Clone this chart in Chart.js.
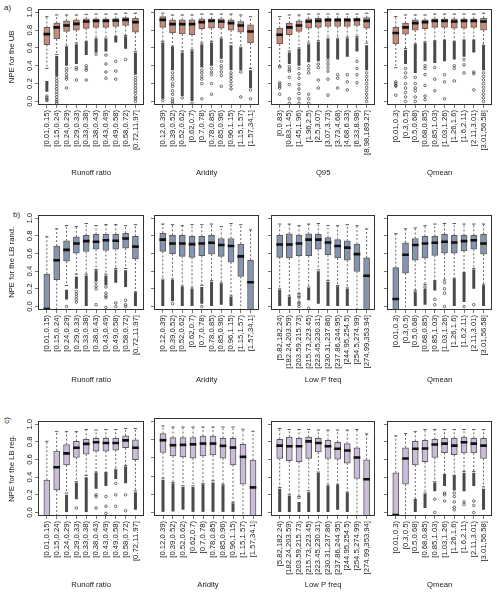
<!DOCTYPE html>
<html><head><meta charset="utf-8">
<script src="https://cdn.jsdelivr.net/npm/chart.js@4.4.1/dist/chart.umd.min.js"></script>
<style>
html,body{margin:0;padding:0;background:#fff;}
#wrap{position:relative;width:500px;height:595px;overflow:hidden;background:#fff;}
canvas{position:absolute;}
.lab{position:absolute;font:8px 'Liberation Sans',Arial,sans-serif;color:#222;line-height:9px;}
</style></head><body><div id="wrap">
<div class="lab" style="left:4px;top:3px;">a)</div>
<div class="lab" style="left:13px;top:210px;">b)</div>
<div class="lab" style="left:3px;top:416px;transform:rotate(-90deg);">c)</div>
</div>
<script>
// ---------- categories ----------
const catRunoff = ["[0.01,0.15)","[0.15,0.24)","[0.24,0.29)","[0.29,0.33)","[0.33,0.38)","[0.38,0.43)","[0.43,0.49)","[0.49,0.58)","[0.58,0.72)","[0.72,11.97]"];
const catAridity = ["[0.12,0.39)","[0.39,0.52)","[0.52,0.62)","[0.62,0.7)","[0.7,0.78)","[0.78,0.85)","[0.85,0.96)","[0.96,1.15)","[1.15,1.57)","[1.57,34.1]"];
const catQ95 = ["[0,0.83)","[0.83,1.45)","[1.45,1.96)","[1.96,2.5)","[2.5,3.07)","[3.07,3.73)","[3.73,4.68)","[4.68,6.33)","[6.33,8.98)","[8.98,189.27]"];
const catLowP = ["[5.82,182.24)","[182.24,203.59)","[203.59,215.73)","[215.73,223.45)","[223.45,230.31)","[230.31,237.86)","[237.86,244.95)","[244.95,254.5)","[254.5,274.99)","[274.99,353.94]"];
const catQmean = ["[0.01,0.3)","[0.3,0.5)","[0.5,0.68)","[0.68,0.85)","[0.85,1.03)","[1.03,1.26)","[1.26,1.6)","[1.6,2.11)","[2.11,3.01)","[3.01,56.58]"];
const yTickValues = [0, 0.2, 0.4, 0.6, 0.8, 1.0];

// ---------- a) NPE for the UB ----------
const A1_hi  = [0.95,0.97,0.97,0.97,0.977,0.98,0.98,0.98,0.99,0.99];
const A1_q3  = [0.83,0.878,0.904,0.915,0.926,0.926,0.926,0.93,0.94,0.933];
const A1_med = [0.755,0.83,0.852,0.87,0.896,0.904,0.904,0.907,0.915,0.889];
const A1_q1  = [0.637,0.70,0.785,0.80,0.82,0.83,0.83,0.84,0.852,0.778];
const A1_lo  = [0.37,0.525,0.62,0.655,0.674,0.71,0.71,0.73,0.74,0.563];
const A1_denseHi = [0.23,0.51,0.61,0.64,0.67,0.70,0.70,0.73,0.73,0.55];
const A1_denseLo = [0.11,0.28,0.40,0.42,0.52,0.55,0.56,0.66,0.59,0.30];
const A1_out = [[0.06,0.04,0.02,0.01],[0.26,0.23,0.2,0.17,0.14,0.11,0.08,0.05,0.02,0,-0.02],[0.37,0.34,0.3,0.27,0.25,0.15],[0.38,0.36,0.24],[0.4,0.37,0.35,0.24],[0.53],[0.52,0.42,0.33,0.26],[0.45,0.34,0.25],[0.47],[0.27,0.24,0.21,0.18,0.15,0.12,0.09,0.05,0.03,0]];

const A2_hi  = [0.99,0.97,0.97,0.97,0.98,0.98,0.98,0.98,0.97,0.95];
const A2_q3  = [0.952,0.915,0.915,0.915,0.926,0.926,0.926,0.915,0.896,0.86];
const A2_med = [0.915,0.867,0.867,0.867,0.889,0.904,0.896,0.878,0.852,0.785];
const A2_q1  = [0.83,0.767,0.756,0.748,0.815,0.822,0.822,0.80,0.778,0.655];
const A2_lo  = [0.674,0.62,0.563,0.58,0.655,0.674,0.71,0.655,0.607,0.37];
const A2_denseHi = [0.66,0.61,0.55,0.57,0.64,0.66,0.70,0.63,0.60,0.35];
const A2_denseLo = [0.03,0.35,0.06,0.0,0.38,0.40,0.48,0.35,0.35,0.15];
const A2_out = [[0.01],[0.32,0.28,0.25,0.2,0.17,0.12,0.08,0.03,0,-0.02],[0.04],[-0.02],[0.35,0.32,0.28,0.25,0.2,0.03],[0.37,0.33,0.3,0.2,0.08],[0.45,0.4,0.37,0.33,0.29,0.17],[0.32,0.29,0.26,0.22,0.18,0.14],[0.33,0.05],[0.13,0.03]];

const A3_hi  = [0.952,0.97,0.97,0.98,0.98,0.98,0.98,0.98,0.98,0.99];
const A3_q3  = [0.822,0.878,0.904,0.926,0.933,0.933,0.933,0.933,0.933,0.94];
const A3_med = [0.748,0.83,0.852,0.896,0.904,0.911,0.911,0.911,0.915,0.904];
const A3_q1  = [0.644,0.748,0.785,0.822,0.83,0.84,0.84,0.84,0.852,0.822];
const A3_lo  = [0.396,0.563,0.6,0.655,0.68,0.71,0.71,0.72,0.73,0.655];
const A3_denseHi = [null,0.55,0.59,0.64,0.67,0.70,0.70,0.71,0.72,0.63];
const A3_denseLo = [null,0.42,0.40,0.44,0.45,0.48,0.47,0.50,0.56,0.35];
const A3_out = [[0.385,0.21,0.19,0.17,0.15,0.08],[0.39,0.36,0.34,0.27,0.19,0.03,-0.02],[0.37,0.31,0.26,0.19,0.14,0.09,0.03,-0.02],[0.4,0.36,0.32,0.08,0.03,-0.02],[0.42,0.38,0.24,0.15],[0.46,0.42,0.38,0.34,0.25,0.07],[0.3,0.26,0.15],[0.3,0.22,0.13],[0.45,0.37,0.3,0.21],[0.32,0.28,0.24,0.2,0.16,0.12,0.08,0.04,0]];

const A4_hi  = [0.952,0.97,0.97,0.97,0.98,0.98,0.98,0.98,0.98,0.99];
const A4_q3  = [0.83,0.878,0.915,0.915,0.926,0.926,0.926,0.926,0.926,0.933];
const A4_med = [0.767,0.83,0.878,0.889,0.904,0.904,0.896,0.904,0.904,0.896];
const A4_q1  = [0.644,0.755,0.80,0.815,0.83,0.83,0.822,0.822,0.83,0.80];
const A4_lo  = [0.378,0.593,0.644,0.667,0.68,0.69,0.674,0.69,0.69,0.63];
const A4_denseHi = [null,0.58,0.64,0.66,0.68,0.69,0.67,0.69,0.69,0.63];
const A4_denseLo = [null,0.42,0.32,0.45,0.43,0.45,0.47,0.50,0.55,0.35];
const A4_out = [[0.22,0.2,0.18,0.17,0.07],[0.37,0.32,0.27,0.2,0.15,0.1,0.05,0],[0.27,0.2,0.15,0.12,0.05,0],[0.4,0.37,0.3,0.18,0.06,0.02],[0.38,0.25,0.12],[0.3,0.22,0.03],[0.4,0.37,0.23],[0.47,0.41,0.32],[0.33,0.31,0.13],[0.32,0.28,0.24,0.2,0.16,0.12,0.08,0.04,0]];

// ---------- b) NPE for the LB rand. ----------
const B1_hi  = [0.79,0.88,0.916,0.905,0.94,0.916,0.927,0.927,0.916,0.927];
const B1_q3  = [0.366,0.685,0.744,0.788,0.806,0.817,0.817,0.817,0.83,0.795];
const B1_med = [-0.03,0.524,0.641,0.714,0.74,0.733,0.75,0.744,0.77,0.678];
const B1_q1  = [-0.2,0.304,0.513,0.604,0.623,0.648,0.634,0.648,0.66,0.538];
const B1_lo  = [-0.2,-0.2,0.238,0.366,0.366,0.42,0.366,0.43,0.43,0.165];
const B1_denseHi = [null,null,0.19,0.34,0.35,0.41,0.35,0.42,0.41,0.16];
const B1_denseLo = [null,null,0.08,0.20,0.0,0.29,0.24,0.27,0.22,0.0];
const B1_out = [[],[],[0],[0.17,0.14,0.11,0.08,0.05],[],[0.27,0.23,0.2,0.02],[0.22,0.15,0.12,0.1,-0.01],[0.04,0],[0.07,0.02,0],[]];

const B2_hi  = [0.934,0.927,0.916,0.927,0.927,0.934,0.905,0.94,0.927,0.868];
const B2_q3  = [0.83,0.806,0.806,0.795,0.795,0.806,0.77,0.77,0.707,0.524];
const B2_med = [0.758,0.714,0.714,0.707,0.714,0.722,0.696,0.685,0.568,0.275];
const B2_q1  = [0.623,0.597,0.568,0.557,0.575,0.593,0.568,0.502,0.34,-0.2];
const B2_lo  = [0.31,0.31,0.23,0.21,0.24,0.293,0.267,0.12,-0.2,-0.2];
const B2_denseHi = [0.30,0.30,0.22,0.20,0.22,0.28,0.26,0.11,null,null];
const B2_denseLo = [0.0,0.06,0.0,0.0,0.03,0.0,0.02,0.0,null,null];
const B2_out = [[],[0.03],[],[],[0],[],[],[],[],[]];

const B3_hi  = [0.934,0.934,0.916,0.934,0.94,0.916,0.916,0.927,0.916,0.879];
const B3_q3  = [0.806,0.824,0.806,0.824,0.817,0.78,0.758,0.744,0.707,0.55];
const B3_med = [0.703,0.703,0.714,0.758,0.758,0.725,0.685,0.667,0.593,0.348];
const B3_q1  = [0.557,0.55,0.575,0.575,0.648,0.586,0.55,0.524,0.396,-0.2];
const B3_lo  = [0.2,0.12,0.147,0.22,0.414,0.293,0.238,0.21,-0.2,-0.2];
const B3_denseHi = [0.19,0.11,null,0.21,0.40,0.28,0.23,0.20,null,null];
const B3_denseLo = [0.0,0.0,null,0.07,0.03,0.0,0.0,0.0,null,null];
const B3_out = [[],[],[0.12,0.1,0.05,0.03,0],[-0.02],[],[],[],[],[],[]];

const B4_hi  = [0.824,0.88,0.89,0.916,0.934,0.94,0.94,0.934,0.934,0.934];
const B4_q3  = [0.44,0.722,0.77,0.795,0.795,0.817,0.806,0.806,0.806,0.817];
const B4_med = [0.084,0.586,0.696,0.714,0.722,0.733,0.725,0.74,0.75,0.714];
const B4_q1  = [-0.2,0.377,0.524,0.55,0.579,0.604,0.604,0.63,0.648,0.593];
const B4_lo  = [-0.2,-0.2,0.183,0.25,0.293,0.3,0.32,0.385,0.43,0.245];
const B4_denseHi = [null,null,0.17,0.20,0.29,null,0.31,0.38,0.42,0.24];
const B4_denseLo = [null,null,0.0,0.02,0.18,null,0.0,0.05,0.20,0.0];
const B4_out = [[],[],[],[0.22],[0.08,0.02],[0.27,0.2,0.15,0],[],[0],[0.02],[]];

// ---------- c) NPE for the LB reg. ----------
const C1_hi  = [0.806,0.916,0.916,0.916,0.94,0.934,0.94,0.94,0.952,0.952];
const C1_q3  = [0.366,0.696,0.77,0.806,0.83,0.84,0.84,0.84,0.868,0.824];
const C1_med = [-0.07,0.513,0.67,0.733,0.777,0.795,0.788,0.788,0.817,0.733];
const C1_q1  = [-0.2,0.256,0.538,0.623,0.66,0.696,0.696,0.707,0.733,0.597];
const C1_lo  = [-0.2,-0.2,0.22,0.348,0.42,0.458,0.454,0.49,0.53,0.245];
const C1_denseHi = [null,null,0.2,0.34,0.40,0.45,0.45,0.48,0.52,0.23];
const C1_denseLo = [null,null,0.0,0.15,0.0,0.27,0.30,0.38,0.33,0.03];
const C1_out = [[],[],[],[0.05],[],[0.2,0.18,0.05],[0.18,0.07,-0.01],[0.33,0.2,0.07],[0.2,0.02],[]];

const C2_hi  = [0.952,0.94,0.94,0.94,0.94,0.94,0.94,0.94,0.916,0.894];
const C2_q3  = [0.868,0.824,0.824,0.824,0.84,0.84,0.817,0.817,0.75,0.575];
const C2_med = [0.795,0.74,0.744,0.75,0.758,0.758,0.733,0.714,0.612,0.275];
const C2_q1  = [0.66,0.623,0.612,0.597,0.623,0.634,0.597,0.524,0.31,-0.2];
const C2_lo  = [0.377,0.33,0.293,0.293,0.32,0.348,0.31,0.11,-0.2,-0.2];
const C2_denseHi = [0.36,0.32,0.28,0.28,0.31,0.33,0.30,0.10,null,null];
const C2_denseLo = [0.0,0.01,0.03,0.0,0.0,0.0,0.0,0.0,null,null];
const C2_out = [[],[],[],[],[],[],[],[],[],[]];

const C3_hi  = [0.952,0.94,0.94,0.94,0.934,0.934,0.934,0.934,0.94,0.89];
const C3_q3  = [0.83,0.853,0.84,0.853,0.84,0.817,0.795,0.78,0.733,0.597];
const C3_med = [0.758,0.75,0.75,0.806,0.788,0.75,0.722,0.703,0.623,0.377];
const C3_q1  = [0.612,0.586,0.575,0.612,0.685,0.612,0.604,0.56,0.385,-0.2];
const C3_lo  = [0.282,0.2,0.183,0.245,0.458,0.31,0.32,0.23,-0.2,-0.2];
const C3_denseHi = [0.27,0.19,0.12,0.23,0.45,0.30,0.31,0.22,null,null];
const C3_denseLo = [0.0,0.0,0.0,0.0,0.0,0.0,0.03,0.0,null,null];
const C3_out = [[],[],[0.17],[],[],[],[],[],[],[]];

const C4_hi  = [0.868,0.894,0.916,0.94,0.94,0.94,0.94,0.94,0.94,0.94];
const C4_q3  = [0.45,0.733,0.806,0.817,0.83,0.84,0.84,0.853,0.84,0.84];
const C4_med = [-0.03,0.612,0.722,0.725,0.77,0.78,0.758,0.795,0.78,0.758];
const C4_q1  = [-0.2,0.32,0.538,0.575,0.623,0.678,0.656,0.674,0.674,0.612];
const C4_lo  = [-0.2,-0.2,0.147,0.22,0.348,0.43,0.42,0.465,0.465,0.29];
const C4_denseHi = [null,null,0.14,0.21,0.34,0.43,0.42,0.45,0.45,0.27];
const C4_denseLo = [null,null,0.0,0.05,0.24,0.30,0.25,0.24,0.30,0.03];
const C4_out = [[],[],[],[],[0.15,0],[0.22,0.2,0.13],[0.22,0.18,0.12,0.06,0.03],[0.12,0.09],[0.13,0.08,0],[]];

// ---------- styling / layout ----------
const FONT = "'Liberation Sans', Arial, sans-serif";
const FS = 7.7;
const fillUB = '#C98B78', fillRand = '#8595AF', fillReg = '#CBBCD9';
const colLeft = [38,154,271,387], colRight = [147,262,378,495];
const rowTop = [6,212,418], rowBottom = [105,310,516], rowAxisH = [73,75,74];
const PADTOP = 2;
const wrap = document.getElementById('wrap');

const framePlugin = {
  id: 'frame',
  afterDraw(chart) {
    const a = chart.chartArea, c = chart.ctx;
    c.save();
    c.strokeStyle = '#333'; c.lineWidth = 1;
    c.strokeRect(Math.round(a.left)+0.5, Math.round(a.top)+0.5, Math.round(a.right-a.left)-1, Math.round(a.bottom-a.top)-1);
    c.restore();
  }
};

function makePanel(r, c, cats, s, fill, xTitle, yTitle) {
  const first = c === 0;
  const yW = first ? 38 : 6;
  const w = yW + (colRight[c]-colLeft[c]) + 2;
  const h = PADTOP + (rowBottom[r]-rowTop[r]) + rowAxisH[r];
  const cv = document.createElement('canvas');
  cv.width = w; cv.height = h;
  cv.style.left = (colLeft[c]-yW)+'px'; cv.style.top = (rowTop[r]-PADTOP)+'px';
  cv.style.width = w+'px'; cv.style.height = h+'px';
  wrap.appendChild(cv);

  const xs = cats.map((_, i) => i + 1);
  const boxes = xs.map((x,i) => ({x, y:[s.q1[i], s.q3[i]]}));
  const meds = xs.map((x,i) => ({x, y:[s.med[i]-0.011, s.med[i]+0.011]}));
  const whisk = [], caps = [], pts = [], dense = [];
  xs.forEach((x,i) => {
    whisk.push({x, y:s.q3[i]}, {x, y:s.hi[i]}, {x, y:null}, {x, y:s.q1[i]}, {x, y:s.lo[i]}, {x, y:null});
    caps.push({x:x-0.17, y:s.hi[i]}, {x:x+0.17, y:s.hi[i]}, {x, y:null}, {x:x-0.17, y:s.lo[i]}, {x:x+0.17, y:s.lo[i]}, {x, y:null});
    if (s.dHi[i] !== null) dense.push({x, y:[s.dLo[i], s.dHi[i]]});
    s.out[i].forEach(v => pts.push({x, y:v}));
  });

  const grid = {display:true, drawOnChartArea:false, drawTicks:true, tickLength:3, color:'#777', lineWidth:1, offset:false};
  const tfont = {family:FONT, size:FS};

  new Chart(cv, {
    type: 'bar',
    data: { datasets: [
      {type:'bar', data:meds, backgroundColor:'#111', borderWidth:0, barThickness:6, grouped:false, order:0, clip:0},
      {type:'bar', data:boxes, backgroundColor:fill, borderColor:'#5c5c5c', borderWidth:1, borderSkipped:false, barThickness:6, grouped:false, order:1, clip:0},
      {type:'line', data:caps, borderColor:'#555', borderWidth:1, pointRadius:0, spanGaps:false, fill:false, order:2, clip:0},
      {type:'line', data:whisk, borderColor:'#666', borderWidth:1, borderDash:[2,2], pointRadius:0, spanGaps:false, fill:false, order:3, clip:0},
      {type:'bar', data:dense, backgroundColor:'#4a4a4a', borderWidth:0, inflateAmount:0, barThickness:3, grouped:false, order:4, clip:0},
      {type:'line', data:pts, showLine:false, pointRadius:1.3, pointBorderWidth:0.7, pointBorderColor:'#333', pointBackgroundColor:'rgba(0,0,0,0)', order:5, clip:0}
    ]},
    options: {
      responsive:false, animation:false, devicePixelRatio:1, events:[],
      layout:{padding:{top:PADTOP, right:2, left:0, bottom:0}},
      plugins:{legend:{display:false}, tooltip:{enabled:false}},
      scales:{
        x:{type:'linear', min:0.1, max:10.9, offset:false,
          afterBuildTicks: sc => { sc.ticks = xs.map(v => ({value:v})); },
          afterFit: sc => { sc.height = rowAxisH[r]; sc.paddingLeft = 0; sc.paddingRight = 0; sc.paddingTop = 0; sc.paddingBottom = 0; },
          grid, border:{display:false},
          ticks:{autoSkip:false, minRotation:90, maxRotation:90, padding:2, color:'#222', font:tfont, callback:(v,i) => cats[i]},
          title:{display:true, text:xTitle, color:'#222', font:tfont, padding:{top:0, bottom:0}}
        },
        y:{type:'linear', min:-0.04, max:1.04,
          afterBuildTicks: sc => { sc.ticks = yTickValues.map(v => ({value:v})); },
          afterFit: sc => { sc.width = yW; sc.paddingLeft = 0; sc.paddingRight = 0; sc.paddingTop = 0; sc.paddingBottom = 0; },
          grid, border:{display:false},
          ticks:{display:first, minRotation:90, maxRotation:90, crossAlign:'center', padding:0, color:'#222', font:tfont, callback:v => Number(v).toFixed(1)},
          title:{display:first, text:yTitle, color:'#222', font:tfont, padding:{top:7, bottom:0}}
        }
      }
    },
    plugins:[framePlugin]
  });
}

function st(hi,q3,med,q1,lo,dHi,dLo,out){ return {hi,q3,med,q1,lo,dHi,dLo,out}; }

makePanel(0,0,catRunoff, st(A1_hi,A1_q3,A1_med,A1_q1,A1_lo,A1_denseHi,A1_denseLo,A1_out), fillUB, 'Runoff ratio', 'NPE for the UB');
makePanel(0,1,catAridity, st(A2_hi,A2_q3,A2_med,A2_q1,A2_lo,A2_denseHi,A2_denseLo,A2_out), fillUB, 'Aridity', '');
makePanel(0,2,catQ95, st(A3_hi,A3_q3,A3_med,A3_q1,A3_lo,A3_denseHi,A3_denseLo,A3_out), fillUB, 'Q95', '');
makePanel(0,3,catQmean, st(A4_hi,A4_q3,A4_med,A4_q1,A4_lo,A4_denseHi,A4_denseLo,A4_out), fillUB, 'Qmean', '');

makePanel(1,0,catRunoff, st(B1_hi,B1_q3,B1_med,B1_q1,B1_lo,B1_denseHi,B1_denseLo,B1_out), fillRand, 'Runoff ratio', 'NPE for the LB rand.');
makePanel(1,1,catAridity, st(B2_hi,B2_q3,B2_med,B2_q1,B2_lo,B2_denseHi,B2_denseLo,B2_out), fillRand, 'Aridity', '');
makePanel(1,2,catLowP, st(B3_hi,B3_q3,B3_med,B3_q1,B3_lo,B3_denseHi,B3_denseLo,B3_out), fillRand, 'Low P freq', '');
makePanel(1,3,catQmean, st(B4_hi,B4_q3,B4_med,B4_q1,B4_lo,B4_denseHi,B4_denseLo,B4_out), fillRand, 'Qmean', '');

makePanel(2,0,catRunoff, st(C1_hi,C1_q3,C1_med,C1_q1,C1_lo,C1_denseHi,C1_denseLo,C1_out), fillReg, 'Runoff ratio', 'NPE for the LB reg.');
makePanel(2,1,catAridity, st(C2_hi,C2_q3,C2_med,C2_q1,C2_lo,C2_denseHi,C2_denseLo,C2_out), fillReg, 'Aridity', '');
makePanel(2,2,catLowP, st(C3_hi,C3_q3,C3_med,C3_q1,C3_lo,C3_denseHi,C3_denseLo,C3_out), fillReg, 'Low P freq', '');
makePanel(2,3,catQmean, st(C4_hi,C4_q3,C4_med,C4_q1,C4_lo,C4_denseHi,C4_denseLo,C4_out), fillReg, 'Qmean', '');
</script>
</body></html>
